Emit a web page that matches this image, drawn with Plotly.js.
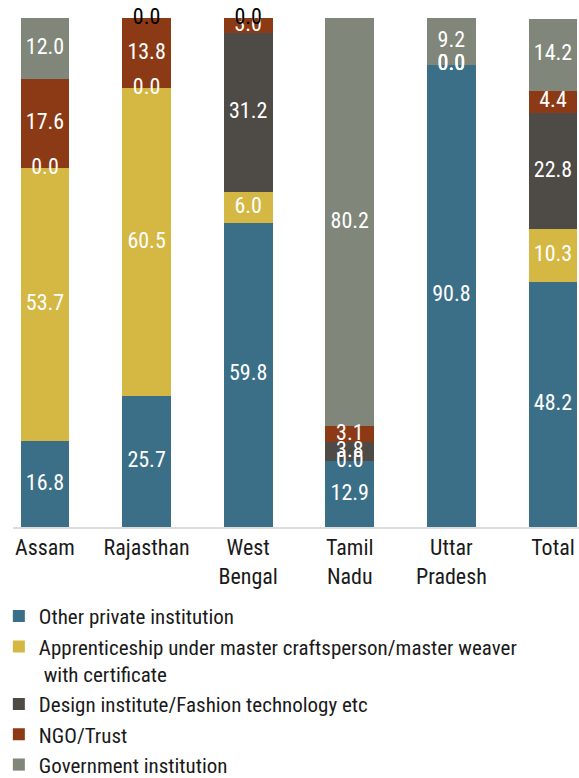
<!DOCTYPE html>
<html>
<head>
<meta charset="utf-8">
<script src="https://cdn.plot.ly/plotly-3.0.1.min.js"></script>
<style>body{margin:0;padding:0;background:#fff}#chart{width:579px;height:778px}</style>
</head>
<body>
<div id="chart"></div>
<script>
const categories = ["Assam", "Rajasthan", "West<br>Bengal", "Tamil<br>Nadu", "Uttar<br>Pradesh", "Total"];
const seriesNames = ["Other private institution",
  "Apprenticeship under master craftsperson/master weaver<br> with certificate",
  "Design institute/Fashion technology etc",
  "NGO/Trust",
  "Government institution"];
const otherPrivate   = [16.8, 25.7, 59.8, 12.9, 90.8, 48.2];
const apprenticeship = [53.7, 60.5, 6.0, 0.0, 0.0, 10.3];
const designInst     = [0.0, 0.0, 31.2, 3.8, 0.0, 22.8];
const ngoTrust       = [17.6, 13.8, 3.0, 3.1, 0.0, 4.4];
const government     = [12.0, 0.0, 0.0, 80.2, 9.2, 14.2];
const colors = ["#3b6f88", "#d5b743", "#4e4a46", "#8c3a15", "#80877a"];

const series = [otherPrivate, apprenticeship, designInst, ngoTrust, government];
const FONT = "'Roboto Condensed', 'Liberation Sans Narrow', 'Arial Narrow', sans-serif";

const traces = [];
series.forEach((vals, i) => {
  traces.push({
    type: "bar", x: categories, y: vals, name: seriesNames[i],
    marker: {color: colors[i], line: {width: 0}},
    textposition: "none", hoverinfo: "y"
  });
});
// labels centered in each segment
const base = categories.map(() => 0);
series.forEach((vals, i) => {
  const ys = vals.map((v, j) => base[j] + v / 2);
  const cols = vals.map(v => (i === series.length - 1 && v === 0) ? "#000000" : "#ffffff");
  traces.push({
    type: "scatter", mode: "text", x: categories, y: ys,
    text: vals.map(v => v.toFixed(1)), textposition: "middle center",
    textfont: {family: FONT, size: 22, color: cols},
    showlegend: false, hoverinfo: "skip", cliponaxis: false
  });
  vals.forEach((v, j) => base[j] += v);
});

const layout = {
  width: 579, height: 778,
  margin: {l: 13, r: 0, t: 18, b: 251, autoexpand: false},
  barmode: "stack", bargap: 0.52,
  paper_bgcolor: "#ffffff", plot_bgcolor: "#ffffff",
  font: {family: FONT, size: 21, color: "#1a1a1a"},
  xaxis: {type: "category", range: [-0.315, 5.256], showgrid: false, zeroline: false,
          showline: true, linecolor: "#dcdcdc", linewidth: 2, ticks: "",
          tickfont: {family: FONT, size: 22, color: "#1a1a1a"}},
  yaxis: {range: [0, 100], visible: false, showgrid: false, zeroline: false},
  showlegend: true,
  legend: {orientation: "v", x: -0.025, xanchor: "left", y: -0.1355, yanchor: "top",
           traceorder: "normal", valign: "top",
           font: {family: FONT, size: 21, color: "#1a1a1a"}, bgcolor: "rgba(0,0,0,0)"}
};
Plotly.newPlot("chart", traces, layout, {displayModeBar: false, staticPlot: true});
</script>
</body>
</html>
